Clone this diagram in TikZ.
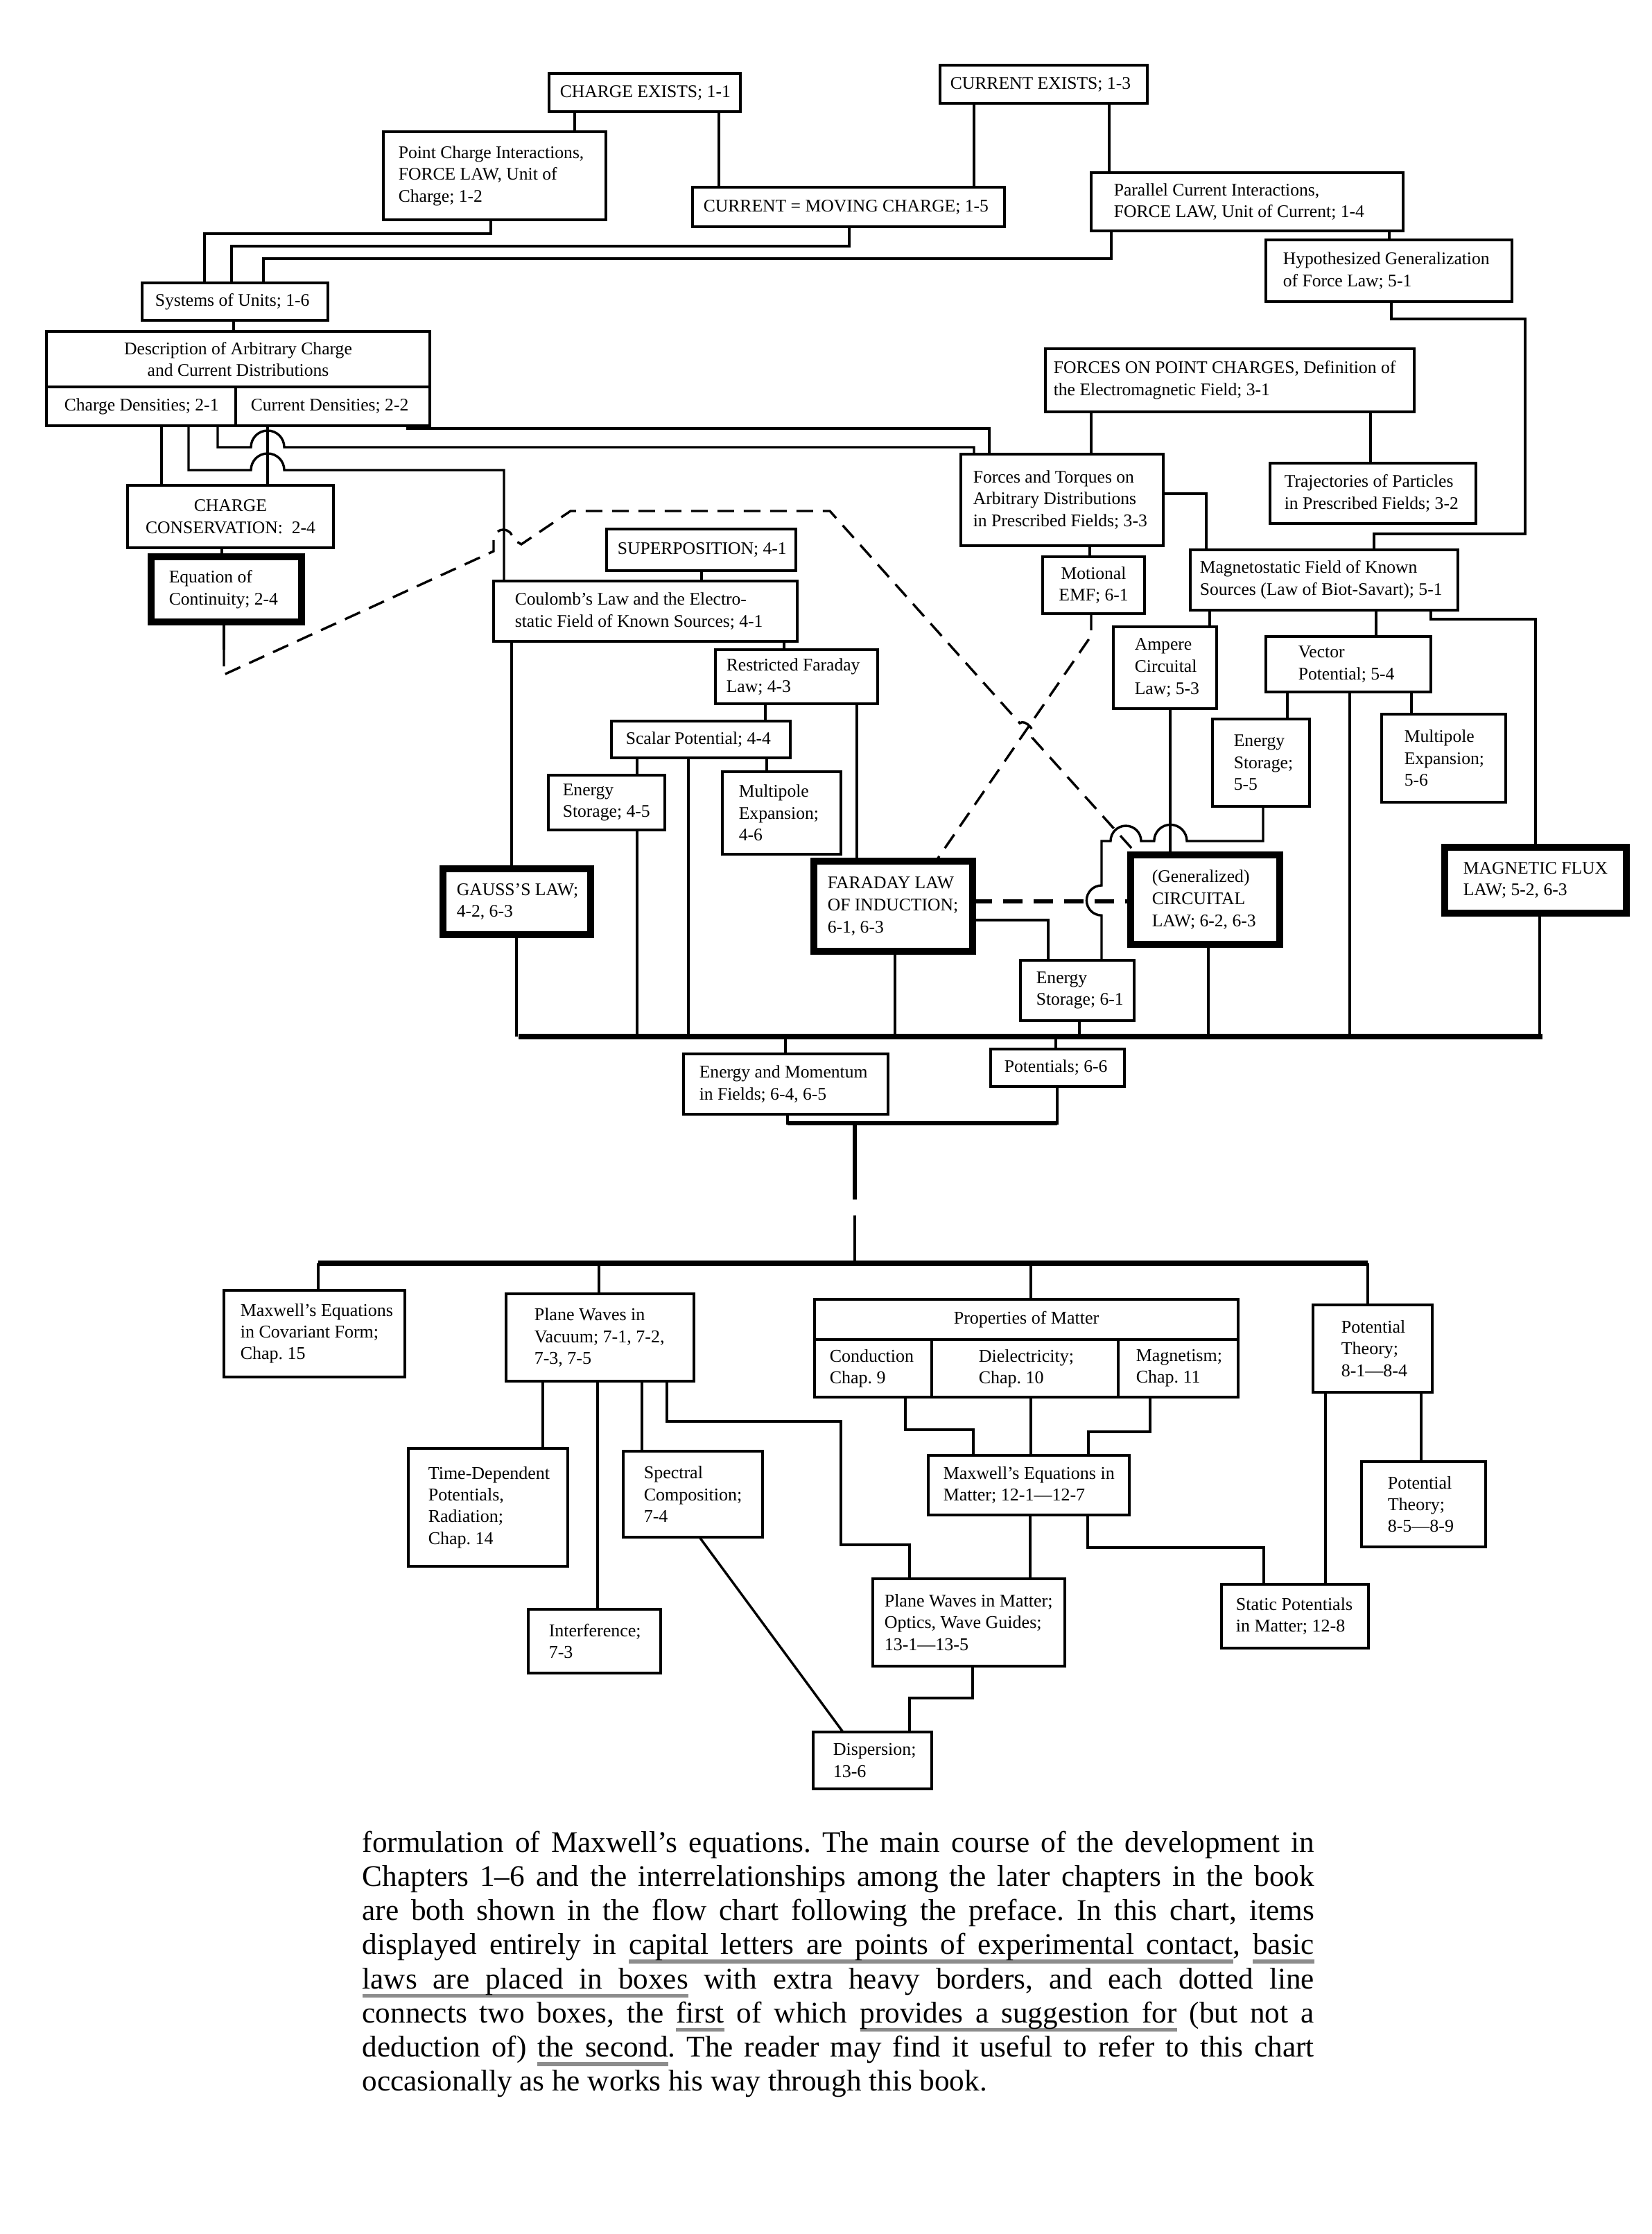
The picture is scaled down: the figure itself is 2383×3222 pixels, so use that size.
\documentclass[tikz,border=0pt]{standalone}
\usepackage{fontspec}
\setmainfont{Liberation Serif}
\usetikzlibrary{calc}

\newcommand\upf{\fontsize{6.4}{7.9}\selectfont}
\newcommand\lowf{\fontsize{6.5}{7.8}\selectfont}
\newcommand\bodyf{\fontsize{10.8}{12.3}\selectfont}
\newsavebox\grbox
\newcommand\grul[1]{\leavevmode\sbox\grbox{#1}\rlap{\textcolor{black!45}{\rule[-3.3pt]{\wd\grbox}{1.4pt}}}\usebox\grbox}
\newcommand\gsp{\textcolor{black!45}{\leaders\hrule height -1.9pt depth 3.3pt\hskip\fontdimen2\font plus\fontdimen3\font minus\fontdimen4\font}}

% #1 style, #2 name, #3 x1, #4 y1, #5 x2, #6 y2, #7 text x, #8 text
\newcommand\mybox[8]{%
  \pgfmathsetmacro\mbw{(#5-#3)*0.25}%
  \pgfmathsetmacro\mbh{(#6-#4)*0.25}%
  \node[#1, anchor=north west, minimum width=\mbw pt, minimum height=\mbh pt] (#2) at (#3,#4) {};%
  \node[#1 text, anchor=west, align=left] (#2-t) at (#7,{(#4+#6)/2}) {#8};%
}
% centred text
\newcommand\myboxc[7]{%
  \pgfmathsetmacro\mbw{(#5-#3)*0.25}%
  \pgfmathsetmacro\mbh{(#6-#4)*0.25}%
  \node[#1, anchor=north west, minimum width=\mbw pt, minimum height=\mbh pt] (#2) at (#3,#4) {};%
  \node[#1 text, align=center] (#2-t) at ({(#3+#5)/2},{(#4+#6)/2}) {#7};%
}

\begin{document}
\frenchspacing
\begin{tikzpicture}[x=0.25pt,y=-0.25pt, line cap=butt, line join=miter,
  ubox/.style={draw, line width=1.2pt, inner sep=0pt, outer sep=0pt},
  ubox text/.style={font=\upf, inner sep=0pt},
  tbox/.style={draw, line width=2.6pt, inner sep=0pt, outer sep=0pt},
  tbox text/.style={font=\upf, inner sep=0pt},
  lbox/.style={draw, line width=1.2pt, inner sep=0pt, outer sep=0pt},
  lbox text/.style={font=\lowf, inner sep=0pt},
  conn/.style={line width=0.85pt},
  busline/.style={line width=2pt},
  dashline/.style={line width=0.85pt, dash pattern=on 6pt off 3.5pt},
  thickdash/.style={line width=1.6pt, dash pattern=on 7pt off 4pt}]

\fill[white] (0,0) rectangle (2383,3222);
\useasboundingbox (0,0) rectangle (2383,3222);

% ---------------- upper chart boxes ----------------
\mybox{ubox}{ce}{792}{106}{1068}{161}{807}{CHARGE EXISTS; 1-1}
\mybox{ubox}{cur}{1356}{94}{1655}{149}{1370}{CURRENT EXISTS; 1-3}
\mybox{ubox}{pci}{553}{190}{874}{317}{574}{Point Charge Interactions,\\FORCE LAW, Unit of\\Charge; 1-2}
\mybox{ubox}{cmc}{999}{270}{1449}{327}{1014}{CURRENT = MOVING CHARGE; 1-5}
\mybox{ubox}{pcu}{1574}{249}{2024}{333}{1606}{Parallel Current Interactions,\\FORCE LAW, Unit of Current; 1-4}
\mybox{ubox}{hyp}{1826}{346}{2181}{435}{1850}{Hypothesized Generalization\\of Force Law; 5-1}
\mybox{ubox}{sys}{205}{408}{473}{462}{223}{Systems of Units; 1-6}
\myboxc{ubox}{desc}{67}{478}{620}{558}{Description of Arbitrary Charge\\and Current Distributions}
\mybox{ubox}{cd}{67}{558}{340}{614}{92}{Charge Densities; 2-1}
\mybox{ubox}{curd}{340}{558}{620}{614}{361}{Current Densities; 2-2}
\mybox{ubox}{fpc}{1508}{503}{2040}{594}{1519}{FORCES ON POINT CHARGES, Definition of\\the Electromagnetic Field; 3-1}
\mybox{ubox}{ft}{1386}{655}{1678}{787}{1403}{Forces and Torques on\\Arbitrary Distributions\\in Prescribed Fields; 3-3}
\mybox{ubox}{tr}{1832}{668}{2129}{755}{1852}{Trajectories of Particles\\in Prescribed Fields; 3-2}
\myboxc{ubox}{cc}{184}{700}{481}{790}{CHARGE\\CONSERVATION:\ \ 2-4}
\mybox{tbox}{eq}{218}{803}{435}{897}{243}{Equation of\\Continuity; 2-4}
\mybox{ubox}{sup}{875}{763}{1148}{823}{890}{SUPERPOSITION; 4-1}
\mybox{ubox}{coul}{712}{838}{1150}{925}{742}{Coulomb's Law and the Electro-\\static Field of Known Sources; 4-1}
\myboxc{ubox}{mot}{1504}{803}{1651}{885}{Motional\\EMF; 6-1}
\mybox{ubox}{mag}{1717}{793}{2103}{880}{1730}{Magnetostatic Field of Known\\Sources (Law of Biot-Savart); 5-1}
\mybox{ubox}{rf}{1032}{937}{1266}{1015}{1047}{Restricted Faraday\\Law; 4-3}
\mybox{ubox}{amp}{1606}{904}{1755}{1022}{1636}{Ampere\\Circuital\\Law; 5-3}
\mybox{ubox}{vec}{1826}{918}{2064}{998}{1872}{Vector\\Potential; 5-4}
\mybox{ubox}{sp}{882}{1040}{1140}{1093}{902}{Scalar Potential; 4-4}
\mybox{ubox}{es45}{791}{1118}{959}{1197}{811}{Energy\\Storage; 4-5}
\mybox{ubox}{mp46}{1042}{1113}{1213}{1232}{1065}{Multipole\\Expansion;\\4-6}
\mybox{ubox}{es55}{1749}{1037}{1889}{1163}{1779}{Energy\\Storage;\\5-5}
\mybox{ubox}{mp56}{1993}{1030}{2172}{1157}{2025}{Multipole\\Expansion;\\5-6}
\mybox{tbox}{gauss}{639}{1253}{852}{1348}{658}{GAUSS'S LAW;\\4-2, 6-3}
\mybox{tbox}{far}{1174}{1242}{1403}{1372}{1193}{FARADAY LAW\\OF INDUCTION;\\6-1, 6-3}
\mybox{tbox}{circ}{1631}{1233}{1846}{1362}{1661}{(Generalized)\\CIRCUITAL\\LAW; 6-2, 6-3}
\mybox{tbox}{mflux}{2084}{1222}{2346}{1317}{2110}{MAGNETIC FLUX\\LAW; 5-2, 6-3}
\mybox{ubox}{es61}{1472}{1385}{1636}{1472}{1494}{Energy\\Storage; 6-1}
\mybox{ubox}{pot}{1429}{1513}{1622}{1567}{1448}{Potentials; 6-6}
\mybox{ubox}{em}{986}{1520}{1281}{1607}{1008}{Energy and Momentum\\in Fields; 6-4, 6-5}

% ---------------- lower chart boxes ----------------
\mybox{lbox}{mcov}{323}{1861}{584}{1986}{346}{Maxwell's Equations\\in Covariant Form;\\Chap. 15}
\mybox{lbox}{pwv}{730}{1866}{1001}{1992}{770}{Plane Waves in\\Vacuum; 7-1, 7-2,\\7-3, 7-5}
\myboxc{lbox}{prop}{1175}{1874}{1786}{1932}{Properties of Matter}
\mybox{lbox}{cond}{1175}{1932}{1344}{2015}{1196}{Conduction\\Chap. 9}
\mybox{lbox}{diel}{1344}{1932}{1613}{2015}{1411}{Dielectricity;\\Chap. 10}
\mybox{lbox}{magn}{1613}{1932}{1786}{2015}{1638}{Magnetism;\\Chap. 11}
\mybox{lbox}{pt1}{1894}{1882}{2066}{2008}{1934}{Potential\\Theory;\\8-1---8-4}
\mybox{lbox}{pt5}{1964}{2108}{2143}{2231}{2001}{Potential\\Theory;\\8-5---8-9}
\mybox{lbox}{td}{589}{2089}{819}{2259}{617}{Time-Dependent\\Potentials,\\Radiation;\\Chap. 14}
\mybox{lbox}{spec}{899}{2093}{1100}{2217}{928}{Spectral\\Composition;\\7-4}
\mybox{lbox}{mem}{1339}{2099}{1629}{2185}{1360}{Maxwell's Equations in\\Matter; 12-1---12-7}
\mybox{lbox}{intf}{762}{2321}{953}{2413}{791}{Interference;\\7-3}
\mybox{lbox}{pwm}{1259}{2277}{1536}{2403}{1275}{Plane Waves in Matter;\\Optics, Wave Guides;\\13-1---13-5}
\mybox{lbox}{stat}{1762}{2285}{1974}{2377}{1782}{Static Potentials\\in Matter; 12-8}
\mybox{lbox}{disp}{1173}{2498}{1344}{2580}{1201}{Dispersion;\\13-6}

% ---------------- named free points ----------------
\coordinate (ubL) at (748,1495);
\coordinate (ubR) at (2225,1495);
\coordinate (jn) at (1233,1620);
\coordinate (gapA) at (1233,1730);
\coordinate (gapB) at (1233,1753);
\coordinate (lbL) at (459,1822);
\coordinate (lbR) at (1973,1822);
\coordinate (eqd) at (323,937);

% ---------------- upper connectors ----------------
\draw[conn] (ce.south -| 829,0) -- (pci.north -| 829,0);
\draw[conn] (ce.south -| 1037,0) -- (cmc.north -| 1037,0);
\draw[conn] (cur.south -| 1405,0) -- (cmc.north -| 1405,0);
\draw[conn] (cur.south -| 1600,0) -- (pcu.north -| 1600,0);
\draw[conn] (pcu.south -| 2004,0) -- (hyp.north -| 2004,0);
\draw[conn] (pci.south -| 708,0) |- (295,337) -- (sys.north -| 295,0);
\draw[conn] (cmc.south -| 1225,0) |- (334,355) -- (sys.north -| 334,0);
\draw[conn] (pcu.south -| 1603,0) |- (380,373) -- (sys.north -| 380,0);
\draw[conn] (sys.south -| 337,0) -- (desc.north -| 337,0);
\draw[conn] (hyp.south -| 2007,0) |- (2200,460) |- (1982,770) -- (mag.north -| 1982,0);
\draw[conn] (fpc.south -| 1574,0) -- (ft.north -| 1574,0);
\draw[conn] (fpc.south -| 1977,0) -- (tr.north -| 1977,0);
\draw[conn] (curd.south -| 588,0) |- (1427,618) -- (ft.north -| 1427,0);
\draw[conn] (cd.south -| 314,0) |- (362,645) arc[start angle=180,end angle=0,radius=6pt] -- (1405,645) -- (ft.north -| 1405,0);
\draw[conn] (cd.south -| 272,0) |- (362,678) arc[start angle=180,end angle=0,radius=6pt] -- (727,678) -- (coul.north -| 727,0);
\draw[conn] (cd.south -| 233,0) -- (cc.north -| 233,0);
\draw[conn] (curd.south -| 386,0) -- (cc.north -| 386,0);
\draw[conn] (cc.south -| 320,0) -- (eq.north -| 320,0);
\draw[conn] (sup.south -| 1012,0) -- (coul.north -| 1012,0);
\draw[conn] (coul.south -| 738,0) -- (gauss.north -| 738,0);
\draw[conn] (coul.south -| 1131,0) -- (rf.north -| 1131,0);
\draw[conn] (rf.south -| 1104,0) -- (sp.north -| 1104,0);
\draw[conn] (rf.south -| 1236,0) -- (far.north -| 1236,0);
\draw[conn] (sp.south -| 919,0) -- (es45.north -| 919,0);
\draw[conn] (sp.south -| 993,0) -- (ubL -| 993,0);
\draw[conn] (sp.south -| 1106,0) -- (mp46.north -| 1106,0);
\draw[conn] (es45.south -| 919,0) -- (ubL -| 919,0);
\draw[conn] (gauss.south -| 745,0) -- (ubL -| 745,0);
\draw[conn] (ft.south -| 1572,0) -- (mot.north -| 1572,0);
\draw[conn] (ft.east |- 0,712) -- (1740,712) -- (mag.north -| 1740,0);
\draw[conn] (mag.south -| 1745,0) -- (amp.north -| 1745,0);
\draw[conn] (mag.south -| 1985,0) -- (vec.north -| 1985,0);
\draw[conn] (mag.south -| 2064,0) |- (2215,893) -- (mflux.north -| 2215,0);
\draw[conn] (vec.south -| 1857,0) -- (es55.north -| 1857,0);
\draw[conn] (vec.south -| 1947,0) -- (ubL -| 1947,0);
\draw[conn] (vec.south -| 2036,0) -- (mp56.north -| 2036,0);
\draw[conn] (amp.south -| 1688,0) -- (circ.north -| 1688,0);
\draw[conn] (es55.south -| 1822,0) -- (1822,1213) -- (1712,1213)
   arc[start angle=0,end angle=180,radius=5.9pt] -- (1646,1213)
   arc[start angle=0,end angle=180,radius=5.5pt] -- (1589,1213) -- (1589,1277)
   arc[start angle=90,end angle=270,radius=5.4pt] -- (es61.north -| 1589,0);
\draw[conn] (far.east |- 0,1327) -- (1512,1327) -- (es61.north -| 1512,0);
\draw[conn] (far.south -| 1291,0) -- (ubL -| 1291,0);
\draw[conn] (circ.south -| 1743,0) -- (ubL -| 1743,0);
\draw[conn] (es61.south -| 1557,0) -- (ubL -| 1557,0);
\draw[conn] (mflux.south -| 2221,0) -- (ubL -| 2221,0);
\draw[busline] (ubL) -- (ubR);
\draw[conn] (ubL -| 1133,0) -- (em.north -| 1133,0);
\draw[conn] (ubL -| 1523,0) -- (pot.north -| 1523,0);

% dashed suggestion lines
\draw[conn] (eq.south -| 323,0) -- (eqd);
\draw[dashline] (eqd) -- (323,973) -- (712,795) -- (712,778)
   arc[start angle=180,end angle=0,radius=3.5pt] -- (752,785) -- (823,737) -- (1197,737)
   -- (1471,1043) to[bend left=90] (1489,1064) -- (circ.north -| 1641,0);
\draw[dashline] (mot.south -| 1574,0) -- (1574,917) -- (far.north -| 1350,0);
\draw[thickdash] (far.east |- 0,1300) -- (circ.west |- 0,1300);

% junction to the lower chart
\draw[conn] (em.south -| 1136,0) |- (jn) -| (pot.south -| 1525,0);
\draw[line width=1.7pt] (1136,1620) -- (1525,1620);
\draw[line width=1.5pt] (jn) -- (gapA);
\draw[conn] (gapB) -- (gapB |- lbL);
\draw[line width=1.8pt] (lbL) -- (lbR);

% ---------------- lower connectors ----------------
\draw[conn] (lbL) -- (mcov.north -| lbL);
\draw[conn] (lbL -| 864,0) -- (pwv.north -| 864,0);
\draw[conn] (lbL -| 1487,0) -- (prop.north -| 1487,0);
\draw[conn] (lbR) -- (pt1.north -| lbR);
\draw[conn] (pwv.south -| 783,0) -- (td.north -| 783,0);
\draw[conn] (pwv.south -| 862,0) -- (intf.north -| 862,0);
\draw[conn] (pwv.south -| 926,0) -- (spec.north -| 926,0);
\draw[conn] (pwv.south -| 962,0) |- (1213,2050) |- (1312,2228) -- (pwm.north -| 1312,0);
\draw[conn] (spec.south -| 1009,0) -- (disp.north -| 1216,0);
\draw[conn] (cond.south -| 1306,0) |- (1404,2062) -- (mem.north -| 1404,0);
\draw[conn] (diel.south -| 1487,0) -- (mem.north -| 1487,0);
\draw[conn] (magn.south -| 1659,0) |- (1570,2065) -- (mem.north -| 1570,0);
\draw[conn] (mem.south -| 1486,0) -- (pwm.north -| 1486,0);
\draw[conn] (mem.south -| 1569,0) |- (1823,2232) -- (stat.north -| 1823,0);
\draw[conn] (pwm.south -| 1403,0) |- (1312,2449) -- (disp.north -| 1312,0);
\draw[conn] (pt1.south -| 1912,0) -- (stat.north -| 1912,0);
\draw[conn] (pt1.south -| 2050,0) -- (pt5.north -| 2050,0);

% ---------------- body text ----------------
\node[anchor=north west, text width=343.25pt, align=justify, inner sep=0pt, font=\bodyf] (body) at (522,2640) {%
formulation of Maxwell’s equations. The main course of the development in\linebreak
Chapters 1--6 and the interrelationships among the later chapters in the book\linebreak
are both shown in the flow chart following the preface. In this chart, items\linebreak
displayed entirely in \grul{capital}\gsp\grul{letters}\gsp\grul{are}\gsp\grul{points}\gsp\grul{of}\gsp\grul{experimental}\gsp\grul{contact}, \grul{basic}\linebreak
\grul{laws}\gsp\grul{are}\gsp\grul{placed}\gsp\grul{in}\gsp\grul{boxes} with extra heavy borders, and each dotted line\linebreak
connects two boxes, the \grul{first} of which \grul{provides}\gsp\grul{a}\gsp\grul{suggestion}\gsp\grul{for} (but not a\linebreak
deduction of) \grul{the}\gsp\grul{second}. The reader may find it useful to refer to this chart\linebreak
occasionally as he works his way through this book.};

\end{tikzpicture}
\end{document}
